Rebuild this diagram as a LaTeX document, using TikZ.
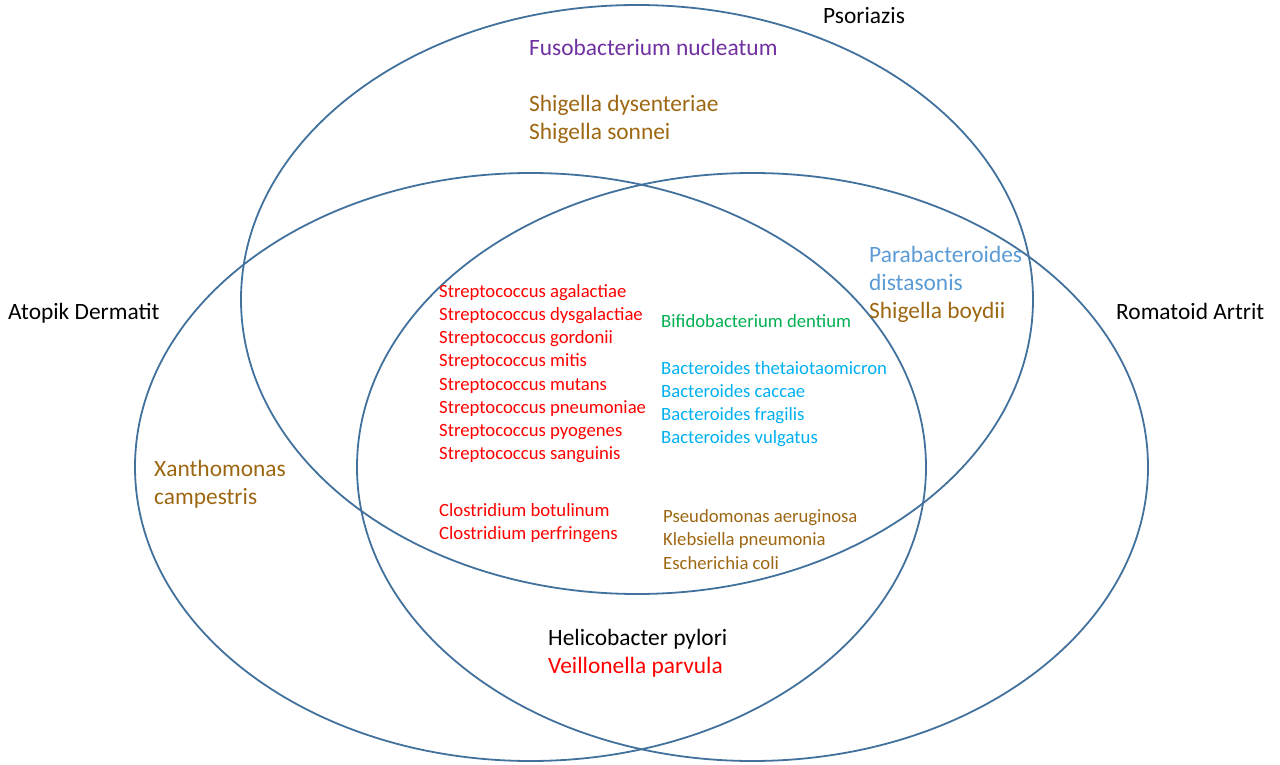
\documentclass[tikz,border=0pt]{standalone}
\usepackage{fontspec}
\setmainfont{Carlito}
\definecolor{ringblue}{RGB}{65,113,156}
\definecolor{tred}{RGB}{255,0,0}
\definecolor{tgreen}{RGB}{0,176,80}
\definecolor{tcyan}{RGB}{0,176,240}
\definecolor{tbrown}{RGB}{157,103,18}
\definecolor{tlblue}{RGB}{91,155,213}
\definecolor{tpurple}{RGB}{112,48,160}
\begin{document}
\begin{tikzpicture}[x=1pt,y=-1pt,
  ring/.style={draw=ringblue,line width=1.8pt},
  small/.style={anchor=base west,inner sep=0pt,font=\fontsize{18.7}{23}\selectfont},
  large/.style={anchor=base west,inner sep=0pt,font=\fontsize{23.4}{28}\selectfont}]
\useasboundingbox (0,0) rectangle (1280,765);
% sets
\draw[ring] (637,299.5) ellipse [x radius=396, y radius=294.5];
\draw[ring] (530.5,467) ellipse [x radius=395.5, y radius=294];
\draw[ring] (752.5,467) ellipse [x radius=395.5, y radius=294];
% set labels
\node[large] (lps) at (823,24) {Psoriazis};
\node[large] (lad) at (8,319) {Atopik Dermatit};
\node[large] (lra) at (1116,319) {Romatoid Artrit};
% Psoriazis only
\node[large,text=tpurple] (fuso) at (529,56) {Fusobacterium nucleatum};
\node[large,text=tbrown] (shd) at (529,112) {Shigella dysenteriae};
\node[large,text=tbrown] (shs) at (529,140) {Shigella sonnei};
% Psoriazis & Romatoid
\node[large,text=tlblue] (par1) at (869,262) {Parabacteroides};
\node[large,text=tlblue] (par2) at (869,290) {distasonis};
\node[large,text=tbrown] (shb) at (869,318) {Shigella boydii};
% Atopik only
\node[large,text=tbrown] (xan1) at (154,476) {Xanthomonas};
\node[large,text=tbrown] (xan2) at (154,504) {campestris};
% Atopik & Romatoid
\node[large] (heli) at (548,645) {Helicobacter pylori};
\node[large,text=tred] (veil) at (548,673) {Veillonella parvula};
% centre
\node[small,text=tred] (st1) at (439,297.5) {Streptococcus agalactiae};
\node[small,text=tred] (st2) at (439,320.6) {Streptococcus dysgalactiae};
\node[small,text=tred] (st3) at (439,343.8) {Streptococcus gordonii};
\node[small,text=tred] (st4) at (439,366.9) {Streptococcus mitis};
\node[small,text=tred] (st5) at (439,390.1) {Streptococcus mutans};
\node[small,text=tred] (st6) at (439,413.2) {Streptococcus pneumoniae};
\node[small,text=tred] (st7) at (439,436.3) {Streptococcus pyogenes};
\node[small,text=tred] (st8) at (439,459.5) {Streptococcus sanguinis};
\node[small,text=tgreen] (bif) at (661,327.5) {Bifidobacterium dentium};
\node[small,text=tcyan] (bac1) at (661,374.5) {Bacteroides thetaiotaomicron};
\node[small,text=tcyan] (bac2) at (661,397.5) {Bacteroides caccae};
\node[small,text=tcyan] (bac3) at (661,420.5) {Bacteroides fragilis};
\node[small,text=tcyan] (bac4) at (661,443.5) {Bacteroides vulgatus};
\node[small,text=tred] (clo1) at (439,516.5) {Clostridium botulinum};
\node[small,text=tred] (clo2) at (439,539.5) {Clostridium perfringens};
\node[small,text=tbrown] (pse) at (663,522.5) {Pseudomonas aeruginosa};
\node[small,text=tbrown] (kle) at (663,545.8) {Klebsiella pneumonia};
\node[small,text=tbrown] (esc) at (663,569) {Escherichia coli};
\end{tikzpicture}
\end{document}
